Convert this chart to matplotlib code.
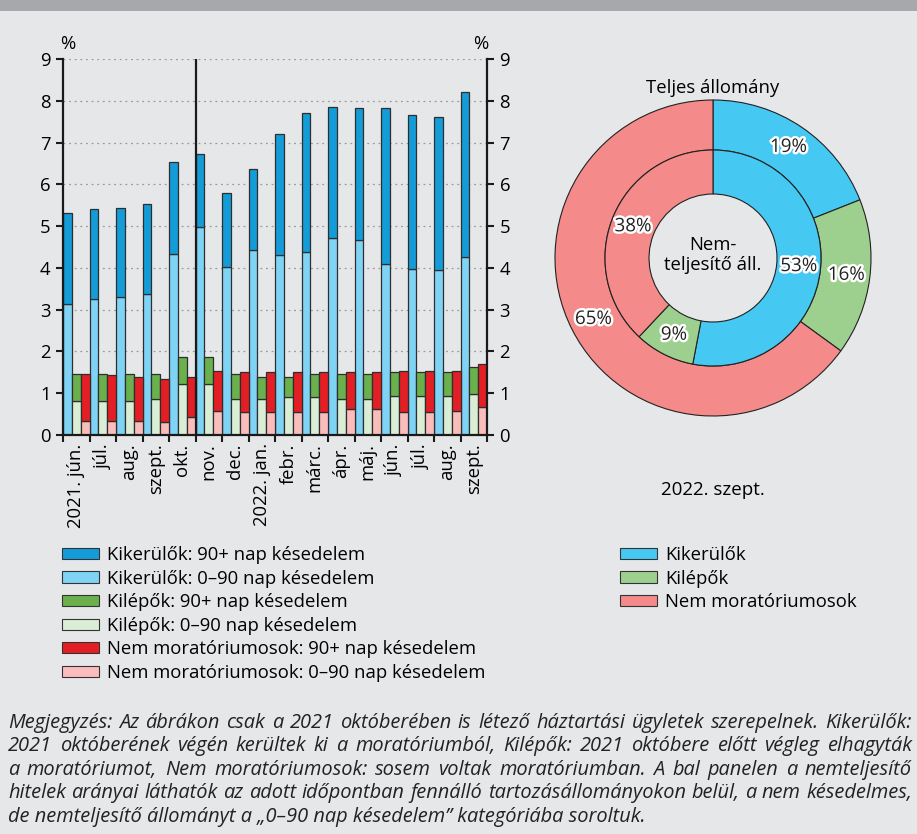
import numpy as np
import matplotlib
matplotlib.use("Agg")
import matplotlib.pyplot as plt
from matplotlib.patches import Patch, Rectangle
import matplotlib.patheffects as pe

plt.rcParams['font.family'] = ['Open Sans', 'DejaVu Sans']
plt.rcParams['font.size'] = 13.3

W, H = 917, 834
BG = '#e6e7e9'

# --- bal panel: nemteljesítő hitelek aránya (%) ---
months = ["2021. jún.", "júl.", "aug.", "szept.", "okt.", "nov.", "dec.", "2022. jan.",
          "febr.", "márc.", "ápr.", "máj.", "jún.", "júl.", "aug.", "szept."]
kik_0_90 = [3.13, 3.26, 3.30, 3.38, 4.34, 4.98, 4.02, 4.43, 4.30, 4.39, 4.71, 4.67, 4.10, 3.98, 3.94, 4.26]
kik_90 = [2.19, 2.14, 2.14, 2.14, 2.19, 1.75, 1.78, 1.94, 2.91, 3.31, 3.15, 3.15, 3.72, 3.68, 3.68, 3.94]
kil_0_90 = [0.82, 0.82, 0.82, 0.86, 1.22, 1.22, 0.86, 0.86, 0.90, 0.90, 0.86, 0.86, 0.94, 0.94, 0.94, 0.98]
kil_90 = [0.64, 0.64, 0.64, 0.60, 0.64, 0.64, 0.60, 0.52, 0.48, 0.56, 0.60, 0.60, 0.56, 0.56, 0.56, 0.64]
nem_0_90 = [0.34, 0.34, 0.34, 0.30, 0.42, 0.58, 0.54, 0.54, 0.54, 0.54, 0.62, 0.62, 0.54, 0.54, 0.58, 0.66]
nem_90 = [1.12, 1.09, 1.04, 1.04, 0.96, 0.96, 0.96, 0.96, 0.96, 0.96, 0.88, 0.88, 1.00, 1.00, 0.96, 1.04]

bar_labels = ["Kikerülők: 90+ nap késedelem", "Kikerülők: 0–90 nap késedelem",
              "Kilépők: 90+ nap késedelem", "Kilépők: 0–90 nap késedelem",
              "Nem moratóriumosok: 90+ nap késedelem", "Nem moratóriumosok: 0–90 nap késedelem"]
bar_colors = ['#139cd8', '#7fd3f5', '#6ab04c', '#daeed5', '#e31e24', '#fbbcbc']

# --- jobb panel: 2022. szept. ---
pie_labels = ["Kikerülők", "Kilépők", "Nem moratóriumosok"]
outer_vals = [19, 16, 65]   # teljes állomány
inner_vals = [53, 9, 38]    # nemteljesítő állomány
pie_colors = ['#45c8f2', '#9dd08e', '#f48a8a']

note_lines = [
    "Megjegyzés: Az ábrákon csak a 2021 októberében is létező háztartási ügyletek szerepelnek. Kikerülők:",
    "2021 októberének végén kerültek ki a moratóriumból, Kilépők: 2021 októbere előtt végleg elhagyták",
    "a moratóriumot, Nem moratóriumosok: sosem voltak moratóriumban. A bal panelen a nemteljesítő",
    "hitelek arányai láthatók az adott időpontban fennálló tartozásállományokon belül, a nem késedelmes,",
    "de nemteljesítő állományt a „0–90 nap késedelem” kategóriába soroltuk.",
]


def fx(px):
    return px / W


def fy(py):
    return 1 - py / H


fig = plt.figure(figsize=(W / 100, H / 100), dpi=100, facecolor=BG)
fig.patches.append(Rectangle((0, fy(11)), 1, 11 / H, transform=fig.transFigure,
                             facecolor='#a7a8ab', edgecolor='none'))

# oszlopdiagram
ax = fig.add_axes([fx(63), fy(435), fx(487) - fx(63), fy(59) - fy(435)])
ax.set_facecolor(BG)
x = np.arange(len(months))
bw = 1 / 3
ek = dict(edgecolor='#2e2e2e', linewidth=0.9)
ax.bar(x + bw * 0.5, kik_0_90, bw, color=bar_colors[1], **ek)
ax.bar(x + bw * 0.5, kik_90, bw, bottom=kik_0_90, color=bar_colors[0], **ek)
ax.bar(x + bw * 1.5, kil_0_90, bw, color=bar_colors[3], **ek)
ax.bar(x + bw * 1.5, kil_90, bw, bottom=kil_0_90, color=bar_colors[2], **ek)
ax.bar(x + bw * 2.5, nem_0_90, bw, color=bar_colors[5], **ek)
ax.bar(x + bw * 2.5, nem_90, bw, bottom=nem_0_90, color=bar_colors[4], **ek)
ax.axvline(5, color='#1a1a1a', lw=1.6)

ax.set_xlim(0, len(months))
ax.set_ylim(0, 9)
ax.set_yticks(range(10))
ax.yaxis.grid(True, linestyle=(0, (1.5, 3)), color='#9a9a9a', lw=0.9)
ax.set_axisbelow(True)
ax.set_xticks(np.arange(len(months) + 1))
ax.set_xticklabels([])
ax.set_xticks(x + 0.5, minor=True)
ax.set_xticklabels(months, minor=True, rotation=90)
ax.tick_params(axis='x', which='minor', length=0, pad=6)
ax.tick_params(axis='x', which='major', length=5, width=1.5, color='#1a1a1a')
ax.tick_params(axis='y', length=5, width=1.5, color='#1a1a1a', pad=4)
for s in ['top', 'right']:
    ax.spines[s].set_visible(False)
for s in ['left', 'bottom']:
    ax.spines[s].set_linewidth(1.6)
    ax.spines[s].set_color('#1a1a1a')

ax2 = ax.twinx()
ax2.set_ylim(0, 9)
ax2.set_yticks(range(10))
ax2.tick_params(axis='y', length=5, width=1.5, color='#1a1a1a', pad=4)
for s in ['top', 'left', 'bottom']:
    ax2.spines[s].set_visible(False)
ax2.spines['right'].set_linewidth(1.6)
ax2.spines['right'].set_color('#1a1a1a')

fig.text(fx(68), fy(44), "%", ha='center', va='center')
fig.text(fx(481), fy(44), "%", ha='center', va='center')

# fánkdiagram
R = 158
axd = fig.add_axes([fx(713 - R), fy(258 + R), 2 * R / W, 2 * R / H])
wk = dict(edgecolor='#222222', linewidth=0.8)
r_in = 108 / R
axd.pie(outer_vals, radius=1, startangle=90, counterclock=False, colors=pie_colors,
        wedgeprops=dict(width=1 - r_in, **wk))
axd.pie(inner_vals, radius=r_in, startangle=90, counterclock=False, colors=pie_colors,
        wedgeprops=dict(width=r_in - 64 / R, **wk))
axd.set_xlim(-1, 1)
axd.set_ylim(-1, 1)
axd.axis('off')

stroke = [pe.withStroke(linewidth=3.5, foreground='white')]
for vals, rr in [(outer_vals, 0.85), (inner_vals, 0.545)]:
    cum = 0
    for v in vals:
        th = np.deg2rad(90 - 3.6 * (cum + v / 2))
        axd.text(rr * np.cos(th), rr * np.sin(th), f"{v}%", ha='center', va='center',
                 fontsize=13.5, color='#222222', path_effects=stroke)
        cum += v
axd.text(0, 0.02, "Nem-\nteljesítő áll.", ha='center', va='center', linespacing=1.15)

fig.text(fx(713), fy(88), "Teljes állomány", ha='center', va='center')
fig.text(fx(713), fy(490), "2022. szept.", ha='center', va='center', fontsize=13.5)

# jelmagyarázatok
leg_kw = dict(loc='upper left', frameon=False, handlelength=2.0, handleheight=0.55,
              handletextpad=0.45, labelspacing=0.3, borderaxespad=0, borderpad=0)
leg_handles = [Patch(facecolor=c, edgecolor='#333333', lw=0.8) for c in bar_colors]
fig.legend(leg_handles, bar_labels, bbox_to_anchor=(fx(62), fy(546)), **leg_kw)
pie_handles = [Patch(facecolor=c, edgecolor='#333333', lw=0.8) for c in pie_colors]
fig.legend(pie_handles, pie_labels, bbox_to_anchor=(fx(620), fy(546)), **leg_kw)

# megjegyzés, sorkizárt
renderer = fig.canvas.get_renderer()
x_left, x_right = 8, 912
for i, line in enumerate(note_lines):
    ypos = fy(723 + i * 23.4)
    style = dict(fontsize=14.4, style='italic', color='#222222', va='center')
    if i == len(note_lines) - 1:
        fig.text(fx(x_left), ypos, line, ha='left', **style)
        continue
    words = line.split(' ')
    texts = [fig.text(0, ypos, w, ha='left', **style) for w in words]
    widths = [t.get_window_extent(renderer=renderer).width for t in texts]
    gap = (x_right - x_left - sum(widths)) / (len(words) - 1)
    xp = x_left
    for t, w in zip(texts, widths):
        t.set_x(fx(xp))
        xp += w + gap

fig.savefig("out.png", dpi=100, facecolor=BG)
